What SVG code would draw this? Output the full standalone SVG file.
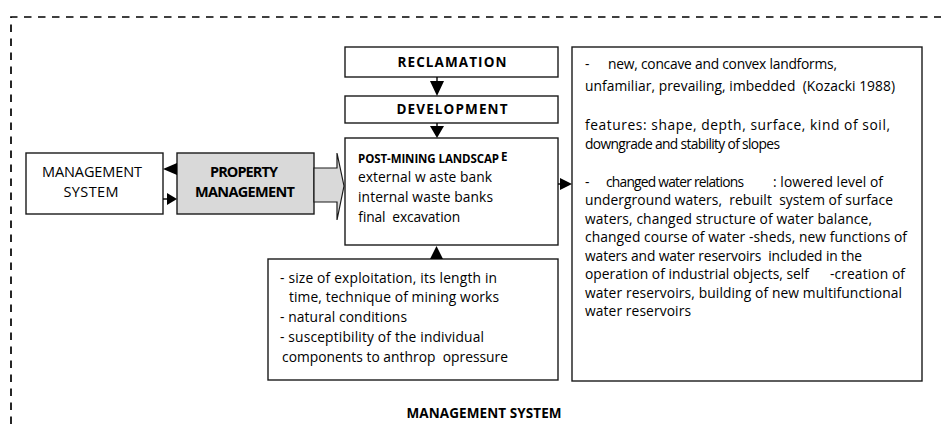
<svg xmlns="http://www.w3.org/2000/svg" width="941" height="424" viewBox="0 0 941 424">
<style>
  text { white-space: pre; }
  .box { fill: #ffffff; stroke: #1a1a1a; stroke-width: 1.4; }
  .gray { fill: #d9d9d9; stroke: #1a1a1a; stroke-width: 1.4; }
  .t { font-family: "Open Sans", "Liberation Sans", sans-serif; font-size: 13.8px; fill: #000; }
  .cap { font-family: "Open Sans", "Liberation Sans", sans-serif; font-size: 14.5px; fill: #000; }
  .b { font-family: "Open Sans", "Liberation Sans", sans-serif; font-weight: bold; font-size: 13.5px; fill: #000; }
  .bs { font-family: "Open Sans", "Liberation Sans", sans-serif; font-weight: bold; font-size: 11.5px; fill: #000; }
  .head { fill: #000; }
  .ln { stroke: #000; stroke-width: 1.4; fill: none; }
</style>
<path d="M 11 424 V 17 H 941" fill="none" stroke="#000" stroke-width="1.7" stroke-dasharray="7.5 6.5"/>
<g id="reclamation">
  <rect class="box" x="345" y="47" width="213" height="30"/>
  <text class="b" x="452" y="67" text-anchor="middle" textLength="109">RECLAMATION</text>
</g>
<g id="development">
  <rect class="box" x="345" y="96" width="213" height="27"/>
  <text class="b" x="452" y="114" text-anchor="middle" textLength="111">DEVELOPMENT</text>
</g>
<g id="post-mining">
  <rect class="box" x="345" y="138" width="213" height="107"/>
  <text class="bs" x="358" y="163" textLength="141">POST-MINING LANDSCAP</text>
  <text class="bs" x="501" y="161">E</text>
  <text class="t" x="358" y="182" textLength="134">external w aste bank</text>
  <text class="t" x="358" y="202" textLength="135">internal waste banks</text>
  <text class="t" x="358" y="222" textLength="102">final  excavation</text>
</g>
<g id="management-system">
  <rect class="box" x="26" y="153" width="137" height="61"/>
  <text class="cap" x="92" y="177" text-anchor="middle" textLength="100">MANAGEMENT</text>
  <text class="cap" x="91" y="197" text-anchor="middle" textLength="55">SYSTEM</text>
</g>
<g id="property-management">
  <rect class="gray" x="177" y="153" width="137" height="61"/>
  <text class="cap" x="244" y="177" text-anchor="middle" font-weight="bold" font-size="14" textLength="68">PROPERTY</text>
  <text class="cap" x="245" y="197" text-anchor="middle" font-weight="bold" font-size="14" textLength="100">MANAGEMENT</text>
</g>
<g id="factors">
  <rect class="box" x="268" y="259" width="290" height="121"/>
  <text class="t" x="280" y="283" textLength="217">- size of exploitation, its length in</text>
  <text class="t" x="289" y="302" textLength="210">time, technique of mining works</text>
  <text class="t" x="280" y="322" textLength="127">- natural conditions</text>
  <text class="t" x="280" y="342" textLength="204">- susceptibility of the individual</text>
  <text class="t" x="282" y="362" textLength="226">components to anthrop  opressure</text>
</g>
<g id="effects">
  <rect class="box" x="572" y="47" width="350" height="334"/>
  <text class="t" x="585" y="69">-</text>
  <text class="t" x="608" y="69" textLength="229">new, concave and convex landforms,</text>
  <text class="t" x="585" y="91" textLength="310">unfamiliar, prevailing, imbedded  (Kozacki 1988)</text>
  <text class="t" x="585" y="130" textLength="305">features: shape, depth, surface, kind of soil,</text>
  <text class="t" x="585" y="149" textLength="195">downgrade and stability of slopes</text>
  <text class="t" x="585" y="187">-</text>
  <text class="t" x="606" y="187" textLength="138">changed water relations</text>
  <text class="t" x="773" y="187" textLength="110">: lowered level of</text>
  <text class="t" x="585" y="205" textLength="308">underground waters,  rebuilt  system of surface</text>
  <text class="t" x="585" y="224" textLength="287">waters, changed structure of water balance,</text>
  <text class="t" x="585" y="242" textLength="322">changed course of water -sheds, new functions of</text>
  <text class="t" x="585" y="261" textLength="277">waters and water reservoirs  included in the</text>
  <text class="t" x="585" y="279" textLength="224">operation of industrial objects, self</text>
  <text class="t" x="830" y="279" textLength="75">-creation of</text>
  <text class="t" x="585" y="298" textLength="317">water reservoirs, building of new multifunctional</text>
  <text class="t" x="585" y="316" textLength="106">water reservoirs</text>
</g>
<g id="label">
  <text class="b" x="484" y="418" text-anchor="middle" font-size="13" textLength="155">MANAGEMENT SYSTEM</text>
</g>
<g id="connectors">
  <line class="ln" x1="437" y1="77" x2="437" y2="82"/>
  <polygon class="head" points="430,81 444,81 437,96"/>
  <line class="ln" x1="437" y1="123" x2="437" y2="127"/>
  <polygon class="head" points="430,126 444,126 437,138"/>
  <polygon class="head" points="430,259 443,259 436.5,246"/>
  <line class="ln" x1="558" y1="184" x2="561" y2="184"/>
  <polygon class="head" points="560,178 560,190 572,184"/>
  <polygon class="head" points="163,169 177,163 177,175"/>
  <line class="ln" x1="163" y1="199" x2="168" y2="199"/>
  <polygon class="head" points="167,193 167,205 177,199"/>
  <polygon points="314,168 337,168 337,153 344,186 337,220 337,202 314,202" fill="#d9d9d9" stroke="#1a1a1a" stroke-width="1.2"/>
</g>
</svg>
